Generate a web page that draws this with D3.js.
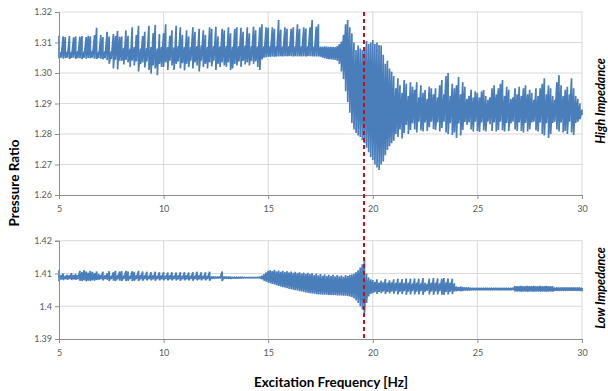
<!DOCTYPE html>
<html>
<head>
<meta charset="utf-8">
<script src="https://cdn.jsdelivr.net/npm/d3@7"></script>
<style>
  body { margin: 0; background: #fff; }
  svg { display: block; font-family: Lato, "Open Sans", sans-serif; }
</style>
</head>
<body>
<svg id="chart" width="608" height="391"></svg>
<script>
// sampled signal, one column every 0.1 Hz from 5 to 30 Hz (max / min of the trace in that column)
var freqStart = 5;
var freqStep = 0.1;

var highMax = [
  1.3122,1.3068,1.3120,1.3118,1.3070,1.3121,1.3069,1.3117,1.3120,1.3071,
  1.3119,1.3121,1.3070,1.3118,1.3122,1.3120,1.3072,1.3124,1.3148,1.3070,
  1.3125,1.3118,1.3071,1.3135,1.3120,1.3072,1.3128,1.3121,1.3138,1.3119,
  1.3120,1.3082,1.3140,1.3122,1.3080,1.3150,1.3085,1.3125,1.3155,1.3080,
  1.3121,1.3135,1.3082,1.3155,1.3085,1.3130,1.3158,1.3080,1.3128,1.3086,
  1.3130,1.3160,1.3085,1.3122,1.3140,1.3084,1.3155,1.3088,1.3150,1.3125,
  1.3086,1.3140,1.3120,1.3085,1.3150,1.3135,1.3088,1.3145,1.3090,1.3140,
  1.3125,1.3086,1.3150,1.3145,1.3088,1.3152,1.3120,1.3087,1.3145,1.3140,
  1.3088,1.3150,1.3130,1.3086,1.3145,1.3150,1.3088,1.3148,1.3135,1.3090,
  1.3150,1.3130,1.3088,1.3152,1.3140,1.3087,1.3150,1.3160,1.3088,1.3150,
  1.3148,1.3088,1.3150,1.3145,1.3088,1.3174,1.3142,1.3087,1.3150,1.3145,
  1.3088,1.3145,1.3150,1.3087,1.3160,1.3145,1.3088,1.3150,1.3146,1.3088,
  1.3150,1.3174,1.3087,1.3152,1.3160,1.3086,1.3086,1.3087,1.3087,1.3086,
  1.3086,1.3086,1.3085,1.3088,1.3095,1.3103,1.3125,1.3160,1.3174,1.3150,
  1.3130,1.3100,1.3075,1.3090,1.3080,1.3075,1.3085,1.3105,1.3095,1.3100,
  1.3108,1.3095,1.3100,1.3092,1.3090,1.3060,1.3030,1.3040,1.3015,1.3005,
  1.2990,1.2950,1.2983,1.2960,1.2935,1.2977,1.2965,1.2925,1.2970,1.2955,
  1.2945,1.2970,1.2920,1.2960,1.2935,1.2944,1.2915,1.2955,1.2950,1.2930,
  1.2950,1.2920,1.2960,1.2977,1.2930,1.2990,1.3000,1.2925,1.2965,1.2950,
  1.2960,1.2987,1.2930,1.2970,1.2955,1.2915,1.2925,1.2945,1.2920,1.2940,
  1.2935,1.2920,1.2940,1.2944,1.2925,1.2912,1.2920,1.2950,1.2960,1.2930,
  1.2950,1.2965,1.2977,1.2925,1.2955,1.2945,1.2915,1.2920,1.2950,1.2930,
  1.2955,1.2925,1.2950,1.2960,1.2930,1.2945,1.2935,1.2912,1.2950,1.2925,
  1.2950,1.2965,1.2983,1.2930,1.2960,1.2950,1.2925,1.2912,1.2970,1.2993,
  1.2960,1.2925,1.2945,1.2955,1.2930,1.2983,1.2950,1.2925,1.2915,1.2900,
  1.2880
];
var highMin = [
  1.3048,1.3050,1.3047,1.3049,1.3050,1.3046,1.3049,1.3050,1.3047,1.3049,
  1.3048,1.3046,1.3050,1.3047,1.3049,1.3048,1.3050,1.3047,1.3046,1.3049,
  1.3047,1.3045,1.3048,1.3042,1.3030,1.3046,1.3015,1.3044,1.3012,1.3040,
  1.3040,1.3028,1.3043,1.3035,1.3020,1.3041,1.3025,1.3038,1.3005,1.3030,
  1.3035,1.3018,1.3038,1.3010,1.2998,1.3025,1.3015,1.2993,1.3030,1.3020,
  1.3020,1.3035,1.3010,1.3040,1.3025,1.3010,1.3030,1.3038,1.3015,1.3032,
  1.3008,1.3030,1.3020,1.3040,1.3015,1.3035,1.3025,1.3005,1.3040,1.3020,
  1.3030,1.3015,1.3035,1.3022,1.3040,1.3010,1.3030,1.3020,1.3035,1.3025,
  1.3020,1.3035,1.3010,1.3015,1.3030,1.3025,1.3038,1.3020,1.3040,1.3028,
  1.3035,1.3025,1.3040,1.3030,1.3038,1.3020,1.3010,1.3045,1.3050,1.3052,
  1.3053,1.3053,1.3054,1.3053,1.3054,1.3054,1.3055,1.3054,1.3055,1.3055,
  1.3055,1.3055,1.3054,1.3055,1.3054,1.3055,1.3054,1.3055,1.3054,1.3055,
  1.3055,1.3055,1.3054,1.3054,1.3054,1.3053,1.3050,1.3048,1.3046,1.3045,
  1.3045,1.3044,1.3043,1.3040,1.3030,1.3005,1.2980,1.2940,1.2905,1.2870,
  1.2836,1.2815,1.2803,1.2795,1.2790,1.2780,1.2770,1.2755,1.2740,1.2725,
  1.2715,1.2700,1.2690,1.2682,1.2700,1.2710,1.2730,1.2748,1.2760,1.2770,
  1.2778,1.2800,1.2790,1.2815,1.2785,1.2803,1.2830,1.2800,1.2813,1.2835,
  1.2815,1.2805,1.2840,1.2812,1.2808,1.2838,1.2810,1.2822,1.2840,1.2816,
  1.2813,1.2838,1.2808,1.2820,1.2840,1.2805,1.2800,1.2835,1.2797,1.2805,
  1.2787,1.2835,1.2795,1.2813,1.2840,1.2830,1.2838,1.2815,1.2808,1.2840,
  1.2810,1.2807,1.2838,1.2812,1.2808,1.2840,1.2832,1.2810,1.2838,1.2808,
  1.2813,1.2840,1.2812,1.2808,1.2836,1.2810,1.2835,1.2840,1.2815,1.2810,
  1.2838,1.2810,1.2805,1.2836,1.2808,1.2815,1.2838,1.2840,1.2812,1.2808,
  1.2838,1.2800,1.2795,1.2835,1.2787,1.2800,1.2836,1.2840,1.2815,1.2808,
  1.2838,1.2805,1.2810,1.2800,1.2840,1.2805,1.2797,1.2836,1.2840,1.2848,
  1.2862
];

var lowMax = [
  1.4110,1.4095,1.4100,1.4093,1.4096,1.4094,1.4101,1.4095,1.4098,1.4094,
  1.4108,1.4104,1.4110,1.4106,1.4102,1.4108,1.4105,1.4101,1.4106,1.4098,
  1.4095,1.4105,1.4094,1.4100,1.4107,1.4093,1.4104,1.4108,1.4095,1.4106,
  1.4107,1.4094,1.4108,1.4106,1.4093,1.4107,1.4105,1.4094,1.4108,1.4095,
  1.4106,1.4094,1.4105,1.4093,1.4104,1.4094,1.4105,1.4093,1.4104,1.4094,
  1.4104,1.4093,1.4103,1.4094,1.4104,1.4093,1.4103,1.4094,1.4104,1.4093,
  1.4104,1.4094,1.4103,1.4093,1.4104,1.4093,1.4105,1.4094,1.4104,1.4093,
  1.4104,1.4093,1.4105,1.4091,1.4090,1.4090,1.4090,1.4090,1.4106,1.4091,
  1.4090,1.4090,1.4090,1.4089,1.4089,1.4089,1.4089,1.4089,1.4089,1.4088,
  1.4088,1.4088,1.4088,1.4088,1.4088,1.4088,1.4089,1.4092,1.4097,1.4103,
  1.4108,1.4110,1.4107,1.4111,1.4106,1.4109,1.4105,1.4108,1.4104,1.4107,
  1.4103,1.4106,1.4102,1.4105,1.4101,1.4104,1.4100,1.4103,1.4099,1.4102,
  1.4098,1.4101,1.4095,1.4100,1.4094,1.4098,1.4093,1.4097,1.4092,1.4096,
  1.4092,1.4096,1.4091,1.4095,1.4091,1.4094,1.4090,1.4095,1.4092,1.4096,
  1.4097,1.4100,1.4104,1.4110,1.4118,1.4128,1.4141,1.4100,1.4088,1.4082,
  1.4080,1.4074,1.4082,1.4072,1.4078,1.4073,1.4083,1.4072,1.4079,1.4073,
  1.4082,1.4071,1.4084,1.4072,1.4083,1.4071,1.4085,1.4072,1.4084,1.4070,
  1.4085,1.4072,1.4084,1.4070,1.4086,1.4072,1.4068,1.4084,1.4072,1.4086,
  1.4072,1.4085,1.4070,1.4084,1.4086,1.4073,1.4085,1.4072,1.4084,1.4070,
  1.4060,1.4058,1.4060,1.4058,1.4057,1.4057,1.4057,1.4056,1.4056,1.4056,
  1.4056,1.4056,1.4056,1.4056,1.4056,1.4056,1.4056,1.4056,1.4056,1.4056,
  1.4056,1.4056,1.4056,1.4056,1.4056,1.4056,1.4056,1.4056,1.4061,1.4061,
  1.4061,1.4062,1.4061,1.4061,1.4062,1.4061,1.4061,1.4062,1.4061,1.4061,
  1.4062,1.4061,1.4061,1.4062,1.4061,1.4061,1.4061,1.4057,1.4057,1.4057,
  1.4057,1.4057,1.4057,1.4057,1.4057,1.4057,1.4057,1.4057,1.4057,1.4057,
  1.4056
];
var lowMin = [
  1.4076,1.4082,1.4080,1.4083,1.4081,1.4083,1.4080,1.4082,1.4081,1.4082,
  1.4078,1.4077,1.4079,1.4076,1.4078,1.4077,1.4079,1.4078,1.4080,1.4081,
  1.4082,1.4079,1.4083,1.4081,1.4077,1.4083,1.4078,1.4077,1.4082,1.4078,
  1.4077,1.4083,1.4077,1.4078,1.4083,1.4077,1.4078,1.4083,1.4077,1.4082,
  1.4078,1.4083,1.4079,1.4083,1.4079,1.4082,1.4078,1.4083,1.4079,1.4082,
  1.4079,1.4083,1.4079,1.4082,1.4079,1.4083,1.4079,1.4082,1.4078,1.4083,
  1.4079,1.4082,1.4079,1.4083,1.4078,1.4083,1.4079,1.4082,1.4079,1.4083,
  1.4079,1.4083,1.4078,1.4084,1.4085,1.4085,1.4085,1.4085,1.4077,1.4084,
  1.4084,1.4084,1.4084,1.4085,1.4085,1.4085,1.4085,1.4085,1.4086,1.4086,
  1.4086,1.4086,1.4086,1.4086,1.4087,1.4087,1.4085,1.4082,1.4078,1.4075,
  1.4072,1.4070,1.4068,1.4066,1.4064,1.4062,1.4060,1.4058,1.4057,1.4055,
  1.4053,1.4052,1.4050,1.4049,1.4048,1.4046,1.4045,1.4044,1.4042,1.4041,
  1.4040,1.4039,1.4038,1.4037,1.4036,1.4036,1.4035,1.4035,1.4035,1.4034,
  1.4034,1.4034,1.4034,1.4033,1.4033,1.4033,1.4032,1.4032,1.4031,1.4030,
  1.4028,1.4024,1.4018,1.4010,1.4000,1.3990,1.3978,1.4010,1.4030,1.4038,
  1.4040,1.4043,1.4038,1.4044,1.4040,1.4045,1.4037,1.4044,1.4039,1.4045,
  1.4038,1.4046,1.4036,1.4045,1.4037,1.4046,1.4035,1.4045,1.4036,1.4046,
  1.4036,1.4045,1.4036,1.4046,1.4035,1.4045,1.4047,1.4036,1.4045,1.4035,
  1.4045,1.4036,1.4046,1.4035,1.4035,1.4044,1.4036,1.4045,1.4037,1.4046,
  1.4046,1.4047,1.4046,1.4047,1.4048,1.4048,1.4048,1.4049,1.4049,1.4049,
  1.4049,1.4049,1.4049,1.4049,1.4049,1.4049,1.4049,1.4049,1.4049,1.4049,
  1.4049,1.4049,1.4049,1.4049,1.4049,1.4049,1.4049,1.4049,1.4045,1.4045,
  1.4045,1.4044,1.4045,1.4045,1.4044,1.4045,1.4045,1.4044,1.4045,1.4045,
  1.4044,1.4045,1.4045,1.4044,1.4045,1.4045,1.4045,1.4047,1.4047,1.4047,
  1.4047,1.4047,1.4047,1.4047,1.4047,1.4047,1.4047,1.4047,1.4047,1.4047,
  1.4046
];

var xTicks = [5, 10, 15, 20, 25, 30];
var highTicks = [1.26, 1.27, 1.28, 1.29, 1.30, 1.31, 1.32];
var highTickLabels = ["1.26", "1.27", "1.28", "1.29", "1.30", "1.31", "1.32"];
var lowTicks = [1.39, 1.40, 1.41, 1.42];
var lowTickLabels = ["1.39", "1.4", "1.41", "1.42"];
var resonanceFreq = 19.58;

var svg = d3.select("#chart");
var lineColor = "#4a7ebb";
var gridColor = "#d9d9d9";
var axisColor = "#8c8c8c";
var labelColor = "#595959";

var x = d3.scaleLinear().domain([5, 30]).range([59, 582]);
var yHigh = d3.scaleLinear().domain([1.26, 1.32]).range([195, 12]);
var yLow = d3.scaleLinear().domain([1.39, 1.42]).range([339, 240.7]);

function drawPanel(y, ticks, tickLabels, maxArr, minArr) {
  var g = svg.append("g");
  var top = y.range()[1], bottom = y.range()[0];

  // horizontal grid
  g.selectAll("line.hgrid")
    .data(ticks.slice(1))
    .enter().append("line")
      .attr("x1", x(5)).attr("x2", x(30))
      .attr("y1", function(d) { return y(d); })
      .attr("y2", function(d) { return y(d); })
      .attr("stroke", gridColor).attr("stroke-width", 1);

  // vertical grid
  g.selectAll("line.vgrid")
    .data(xTicks.slice(1))
    .enter().append("line")
      .attr("x1", function(d) { return x(d); })
      .attr("x2", function(d) { return x(d); })
      .attr("y1", top).attr("y2", bottom)
      .attr("stroke", gridColor).attr("stroke-width", 1);

  // the trace: zig-zag through max/min of every column
  var pts = [];
  for (var i = 0; i < maxArr.length; i++) {
    var f = freqStart + i * freqStep;
    pts.push([f, maxArr[i]]);
    pts.push([f, minArr[i]]);
  }
  var line = d3.line()
    .x(function(d) { return x(d[0]); })
    .y(function(d) { return y(d[1]); });
  g.append("path")
    .attr("d", line(pts))
    .attr("fill", "none")
    .attr("stroke", lineColor)
    .attr("stroke-width", 1.7)
    .attr("stroke-linejoin", "bevel");

  var yAxis = d3.axisLeft(y)
    .tickValues(ticks)
    .tickFormat(function(d, i) { return tickLabels[i]; })
    .tickSize(4)
    .tickPadding(3);
  var ya = g.append("g")
    .attr("transform", "translate(" + x(5) + ",0)")
    .call(yAxis);

  var xAxis = d3.axisBottom(x)
    .tickValues(xTicks)
    .tickSize(4)
    .tickPadding(7);
  var xa = g.append("g")
    .attr("transform", "translate(0," + bottom + ")")
    .call(xAxis);

  [ya, xa].forEach(function(a) {
    a.select(".domain").attr("stroke", axisColor);
    a.selectAll(".tick line").attr("stroke", axisColor);
    a.selectAll(".tick text")
      .attr("fill", labelColor)
      .style("font-size", "9px")
      .style("font-family", "Lato, sans-serif");
  });
}

drawPanel(yHigh, highTicks, highTickLabels, highMax, highMin);
drawPanel(yLow, lowTicks, lowTickLabels, lowMax, lowMin);

// resonance marker across both panels
svg.append("line")
  .attr("x1", x(resonanceFreq)).attr("x2", x(resonanceFreq))
  .attr("y1", yHigh(1.32)).attr("y2", yLow(1.39))
  .attr("stroke", "#c0141c")
  .attr("stroke-width", 2)
  .attr("stroke-dasharray", "4,3");

// titles
svg.append("text")
  .attr("transform", "translate(19,183) rotate(-90)")
  .attr("text-anchor", "middle")
  .style("font-size", "13.5px")
  .style("font-weight", "bold")
  .attr("fill", "#000")
  .text("Pressure Ratio");

svg.append("text")
  .attr("x", 331).attr("y", 387)
  .attr("text-anchor", "middle")
  .style("font-size", "13.5px")
  .style("font-weight", "bold")
  .attr("fill", "#000")
  .text("Excitation Frequency [Hz]");

svg.append("text")
  .attr("transform", "translate(605,101) rotate(-90)")
  .attr("text-anchor", "middle")
  .style("font-size", "12.5px")
  .style("font-weight", "bold")
  .style("font-style", "italic")
  .attr("fill", "#000")
  .text("High Impedance");

svg.append("text")
  .attr("transform", "translate(605,288) rotate(-90)")
  .attr("text-anchor", "middle")
  .style("font-size", "12.5px")
  .style("font-weight", "bold")
  .style("font-style", "italic")
  .attr("fill", "#000")
  .text("Low Impedance");
</script>
</body>
</html>
